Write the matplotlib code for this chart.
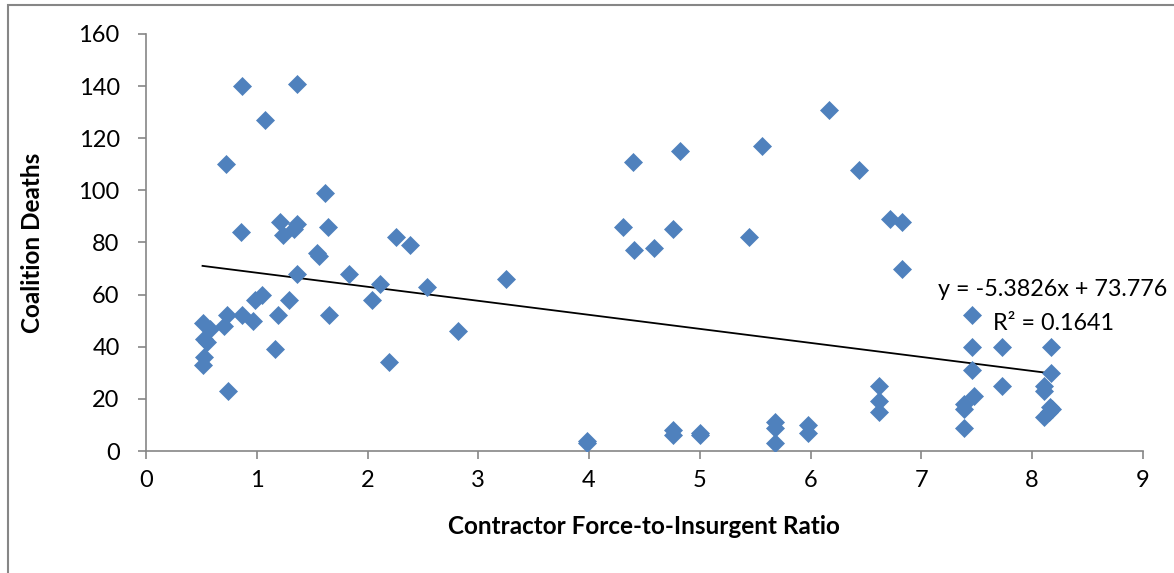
import matplotlib.pyplot as plt
from matplotlib.patches import Rectangle
import numpy as np

plt.rcParams['font.family'] = ['Lato', 'DejaVu Sans']

# force ratio vs. coalition deaths
ratio = [0.87, 1.36, 1.07, 0.72, 1.62, 0.86, 1.21, 1.36, 1.24, 1.34,
         1.64, 1.54, 1.56, 2.26, 2.38, 1.36, 1.83, 3.25, 2.11, 2.54,
         1.05, 0.98, 1.29, 2.04, 0.73, 0.87, 1.19, 1.65, 0.97, 0.70,
         0.51, 0.58, 0.52, 0.55, 2.82, 1.16, 0.52, 0.51, 2.19, 0.74,
         6.17, 5.56, 4.82, 4.40, 6.44, 4.31, 4.76, 5.44, 4.41, 4.59,
         3.98, 3.98, 4.76, 4.76, 5.00, 5.00, 5.68, 5.68, 5.68, 5.98,
         5.98, 6.72, 6.83, 6.83, 7.46, 7.46, 7.73, 8.17, 7.46, 8.17,
         6.62, 7.73, 8.11, 8.11, 6.62, 6.62, 7.48, 7.39, 7.39, 7.39,
         8.16, 8.15, 8.11, 8.18]
deaths = [140, 141, 127, 110, 99, 84, 88, 87, 83, 85,
          86, 76, 75, 82, 79, 68, 68, 66, 64, 63,
          60, 58, 58, 58, 52, 52, 52, 52, 50, 48,
          49, 47, 43, 42, 46, 39, 36, 33, 34, 23,
          131, 117, 115, 111, 108, 86, 85, 82, 77, 78,
          4, 3, 8, 6, 7, 6, 11, 9, 3, 10,
          7, 89, 88, 70, 52, 40, 40, 40, 31, 30,
          25, 25, 25, 23, 19, 15, 21, 18, 16, 9,
          17, 15, 13, 16]

# linear trend coefficients
slope = -5.3826
intercept = 73.776
r2 = 0.1641

fig = plt.figure(figsize=(11.74, 5.73), dpi=100)
ax = fig.add_axes([0.1244, 0.2129, 0.849, 0.7278])

ax.plot(ratio, deaths, linestyle='none', marker='D', markersize=9.5,
        color='#4F81BD', markeredgecolor='#4F81BD', markeredgewidth=0.5,
        zorder=3)

xs = np.array([min(ratio), max(ratio)])
ax.plot(xs, slope * xs + intercept, color='black', linewidth=1.3, zorder=2)

ax.text(8.19, 61.8, f'y = {slope}x + {intercept}', ha='center',
        va='center', fontsize=16.8)
ax.text(8.19, 49.1, f'R² = {r2}', ha='center', va='center', fontsize=16.8)

ax.set_xlim(0, 9)
ax.set_ylim(0, 160)
ax.set_xticks(range(0, 10))
ax.set_yticks(range(0, 161, 20))

for side in ['top', 'right']:
    ax.spines[side].set_visible(False)
for side in ['left', 'bottom']:
    ax.spines[side].set_color('#868686')
    ax.spines[side].set_linewidth(1.2)
ax.tick_params(direction='out', length=6, width=1.2, color='#868686',
               labelsize=17)
ax.tick_params(axis='y', pad=13)
ax.tick_params(axis='x', pad=8)

ax.set_xlabel('Contractor Force-to-Insurgent Ratio', fontsize=17.5,
              fontweight='bold', va='center')
ax.set_ylabel('Coalition Deaths', fontsize=17.5, fontweight='bold',
              va='center')
ax.xaxis.set_label_coords(0.5, -0.182)
ax.yaxis.set_label_coords(-0.1143, 0.5)

# chart border
fig.patches.append(Rectangle((0.0065, -0.1), 1.2, 1.0913,
                             transform=fig.transFigure, fill=False,
                             edgecolor='#868686', linewidth=1.5))

plt.savefig('out.png', dpi=100)
